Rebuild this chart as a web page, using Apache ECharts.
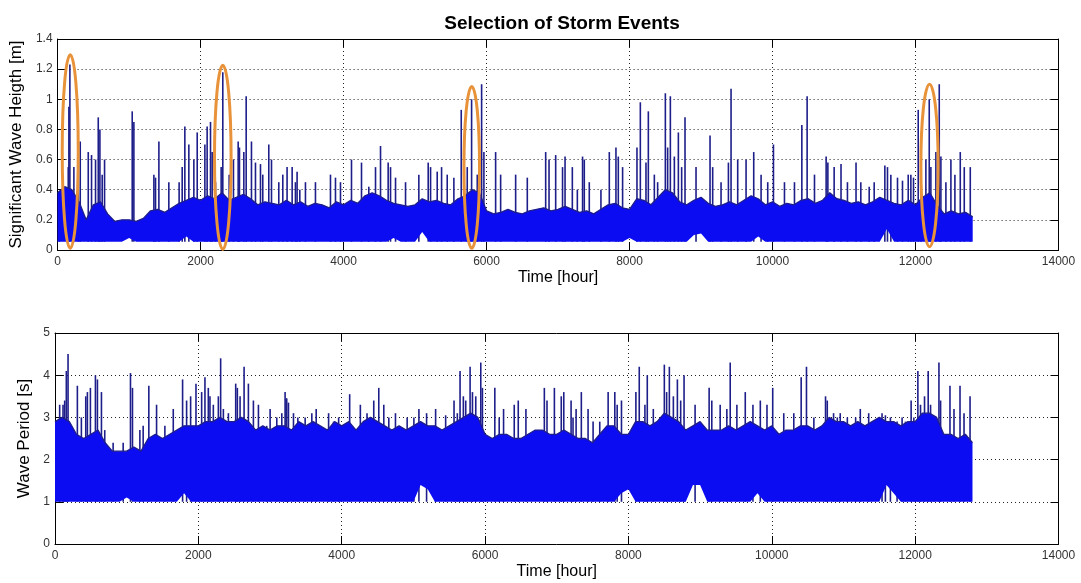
<!DOCTYPE html>
<html>
<head>
<meta charset="utf-8">
<script src="https://cdn.jsdelivr.net/npm/echarts@6/dist/echarts.min.js"></script>
<style>
  html, body { margin: 0; padding: 0; background: #fff; }
  #chart { width: 1081px; height: 583px; }
</style>
</head>
<body>
<div id="chart"></div>
<script>
// envelope of the hourly series, read every 100 hours (0 .. 12800)
var binHours = [];
for (var h = 0; h <= 12800; h += 100) binHours.push(h);

// significant wave height: upper edge of the dense band [m]
var hsHigh = [
  0.38,0.42,0.40,0.32,0.20,0.30,0.32,0.24,0.19,0.20,
  0.20,0.19,0.21,0.26,0.27,0.25,0.28,0.31,0.33,0.35,
  0.33,0.36,0.34,0.38,0.33,0.35,0.37,0.34,0.30,0.32,
  0.31,0.30,0.33,0.30,0.32,0.29,0.31,0.30,0.28,0.32,
  0.30,0.33,0.31,0.36,0.38,0.36,0.33,0.31,0.30,0.29,
  0.30,0.34,0.32,0.33,0.31,0.30,0.34,0.36,0.40,0.38,
  0.26,0.24,0.25,0.27,0.25,0.24,0.26,0.27,0.28,0.26,
  0.27,0.29,0.27,0.25,0.26,0.24,0.27,0.30,0.31,0.28,
  0.27,0.34,0.33,0.30,0.35,0.40,0.38,0.32,0.30,0.33,
  0.35,0.31,0.29,0.30,0.32,0.30,0.33,0.36,0.34,0.30,
  0.32,0.29,0.31,0.30,0.33,0.34,0.31,0.33,0.38,0.34,
  0.33,0.31,0.32,0.30,0.32,0.35,0.33,0.31,0.30,0.33,
  0.30,0.35,0.38,0.30,0.24,0.26,0.24,0.25,0.22
];
var hsFloor = 0.055;
var hsLowNotch = [[1000,0.08],[1800,0.09],[4700,0.08],[5100,0.12],[8000,0.08],[8900,0.10],[9000,0.11],[9800,0.09],[11600,0.14]];

// storm peaks [hour, Hs]
var hsSpikes = [
  [28,0.39],[149,0.55],[158,0.95],[172,1.23],[228,0.55],[289,0.72],[317,0.72],[429,0.65],[475,0.63],[531,0.6],[569,0.88],[592,0.8],[624,0.5],[657,0.6],
  [1044,0.92],[1067,0.85],[1347,0.5],[1370,0.48],[1417,0.72],[1556,0.45],[1700,0.45],[1743,0.55],[1780,0.82],[1836,0.7],[1906,0.6],[1953,0.78],
  [2060,0.7],[2092,0.82],[2139,0.85],[2162,0.65],[2209,0.45],[2288,0.55],[2311,1.18],[2400,0.5],[2460,0.6],[2526,0.72],[2544,0.68],[2605,0.65],[2638,1.02],[2712,0.72],[2768,0.58],[2838,0.57],[2870,0.5],[2954,0.7],[2992,0.6],
  [3094,0.45],[3150,0.5],[3210,0.55],[3281,0.55],[3327,0.45],[3350,0.52],[3388,0.4],[3467,0.45],[3607,0.45],[3817,0.5],[3887,0.48],[3957,0.45],
  [4111,0.6],[4251,0.58],[4353,0.42],[4447,0.55],[4517,0.69],[4624,0.58],[4657,0.55],[4727,0.48],[4867,0.45],[5053,0.5],[5184,0.58],[5217,0.55],[5310,0.52],[5371,0.55],[5450,0.5],[5543,0.48],[5646,0.93],[5730,0.55],[5791,1.0],[5870,0.5],[5931,1.1],[5963,0.65],
  [6127,0.65],[6197,0.5],[6407,0.5],[6570,0.48],[6827,0.65],[6874,0.6],[6967,0.63],[7063,0.55],[7098,0.62],[7200,0.55],[7270,0.4],[7343,0.62],[7367,0.6],[7437,0.45],[7600,0.4],[7717,0.65],[7810,0.68],[7843,0.62],[7903,0.55],
  [8104,0.68],[8151,0.98],[8230,0.58],[8263,0.92],[8347,0.5],[8393,0.45],[8501,1.04],[8533,0.68],[8571,1.02],[8627,0.62],[8683,0.78],[8729,0.55],[8776,0.88],[8930,0.55],
  [9126,0.76],[9163,0.55],[9280,0.45],[9383,0.58],[9420,1.07],[9513,0.6],[9630,0.6],[9737,0.65],[9840,0.5],[9933,0.45],[10013,0.7],
  [10167,0.45],[10307,0.45],[10410,0.83],[10484,1.02],[10587,0.5],[10750,0.62],[10774,0.58],[10862,0.55],[10958,0.57],[11048,0.45],[11168,0.58],[11235,0.45],[11352,0.42],[11422,0.45],[11571,0.56],[11608,0.55],[11655,0.5],[11748,0.48],[11818,0.46],[11898,0.5],[11935,0.5],[11972,0.48],
  [12038,0.93],[12075,0.45],[12145,0.6],[12192,1.0],[12215,0.55],[12285,0.65],[12332,1.1],[12355,0.62],[12425,0.45],[12495,0.6],[12551,0.5],[12626,0.65],[12682,0.55],[12766,0.55]
];

// selected storm events: [centre hour, top, bottom, half width in hours]
var stormEvents = [[177,1.296,0.011,112],[2311,1.225,0.004,116],[5793,1.085,0.011,109],[12196,1.10,0.022,121]];

// wave period: upper edge of the dense band [s]
var tpHigh = [
  2.9,3.0,2.9,2.6,2.5,2.6,2.7,2.4,2.2,2.2,
  2.2,2.3,2.2,2.5,2.6,2.5,2.6,2.7,2.8,2.8,
  2.8,2.9,2.9,3.0,2.9,2.9,3.0,2.9,2.7,2.8,
  2.7,2.8,2.8,2.7,2.9,2.8,2.9,2.8,2.7,2.9,
  2.8,2.9,2.7,2.9,3.0,2.9,2.8,2.7,2.8,2.7,
  2.8,2.9,2.8,2.8,2.7,2.8,2.9,3.0,3.1,3.0,
  2.6,2.5,2.6,2.6,2.5,2.5,2.6,2.7,2.7,2.6,
  2.6,2.7,2.6,2.5,2.5,2.4,2.6,2.8,2.8,2.6,
  2.6,2.9,2.9,2.8,2.9,3.1,3.0,2.9,2.7,2.8,
  2.9,2.7,2.7,2.7,2.8,2.7,2.8,2.9,2.8,2.7,
  2.8,2.6,2.7,2.7,2.8,2.8,2.7,2.8,3.0,2.9,
  2.9,2.8,2.9,2.8,2.9,3.0,2.9,2.9,2.8,2.9,
  2.9,3.1,3.1,3.0,2.6,2.6,2.5,2.6,2.4
];
var tpFloor = 1.0;
var tpLowNotch = [[1000,1.1],[1800,1.2],[5100,1.4],[5200,1.3],[7900,1.2],[8000,1.3],[8900,1.4],[9000,1.4],[9800,1.2],[11600,1.4],[11700,1.2]];

var tpSpikes = [
  [65,3.3],[112,3.3],[135,3.4],[158,4.1],[182,4.5],[312,3.75],[368,3.0],[429,3.5],[452,3.6],[494,3.7],[564,4.0],[592,3.9],[648,3.6],[694,2.7],[811,2.4],[951,2.4],
  [1053,4.05],[1081,3.7],[1184,2.7],[1230,2.8],[1309,3.75],[1417,3.3],[1533,2.8],[1650,3.2],[1780,3.9],[1836,3.4],[1892,3.5],[1967,3.8],
  [2046,3.6],[2092,3.95],[2139,3.7],[2162,3.5],[2209,3.3],[2279,3.5],[2311,4.4],[2349,3.2],[2419,3.1],[2521,3.8],[2544,3.7],[2582,3.5],[2638,4.2],[2698,3.8],[2768,3.4],[2838,3.3],[2954,2.8],
  [3001,3.2],[3094,3.0],[3164,3.1],[3225,3.45],[3257,3.35],[3327,3.1],[3388,3.0],[3210,3.6],[3233,3.45],[3490,3.0],[3583,3.1],[3644,3.2],[3817,3.1],[3887,2.9],[3957,3.0],
  [4111,3.55],[4260,3.3],[4353,3.1],[4447,3.4],[4517,3.7],[4587,3.3],[4657,3.0],[4750,3.1],[4913,3.0],[5007,3.0],[5077,3.2],[5184,3.1],[5310,3.2],[5450,3.05],[5567,3.4],[5613,3.1],[5651,4.1],[5697,3.5],[5730,3.4],[5791,4.2],[5824,3.6],[5870,3.5],[5940,4.3],[5963,3.7],
  [6136,3.7],[6197,3.0],[6258,3.2],[6407,3.3],[6463,3.4],[6570,3.2],[6827,3.7],[6864,3.4],[6967,3.7],[7063,3.5],[7098,3.6],[7200,3.4],[7227,3.0],[7270,3.2],[7343,3.6],[7437,3.2],[7507,2.9],[7600,2.9],[7717,3.6],[7810,3.6],[7843,3.3],[7903,3.4],
  [8104,3.6],[8151,4.2],[8230,3.3],[8263,4.0],[8347,3.2],[8501,4.25],[8533,3.6],[8571,4.2],[8627,3.5],[8683,3.9],[8729,3.4],[8776,4.0],[8930,3.3],
  [9126,3.7],[9163,3.4],[9280,3.3],[9373,3.2],[9420,4.3],[9513,3.3],[9630,3.6],[9737,3.3],[9840,3.4],[9933,3.3],[10013,3.7],
  [10167,3.1],[10307,3.1],[10410,3.95],[10484,4.2],[10587,3.0],[10750,3.5],[10774,3.4],[10862,3.1],[10914,3.0],[10955,3.1],[11054,3.0],[11170,3.0],[11235,3.2],[11352,3.1],[11538,3.1],[11585,3.05],[11655,3.0],[11748,2.9],[11818,3.0],[11865,2.9],[11944,3.4],[11982,3.0],
  [12038,4.1],[12075,3.3],[12131,3.5],[12182,4.1],[12215,3.3],[12262,3.0],[12332,4.3],[12355,3.4],[12486,3.75],[12542,3.2],[12626,3.75],[12682,3.1],[12766,3.5]
];

var FONT = '"Liberation Sans", Arial, Helvetica, sans-serif';
var BAND = '#0c0cf2';
var DARK = '#1e1e8a';

function buildLow(floor, notches) {
  return binHours.map(function (t) {
    for (var i = 0; i < notches.length; i++) {
      if (notches[i][0] === t) return notches[i][1];
    }
    return floor;
  });
}

var hsLow = buildLow(hsFloor, hsLowNotch);
var tpLow = buildLow(tpFloor, tpLowNotch);

function xAxes(gridIndex) {
  return [
    {
      type: 'value', gridIndex: gridIndex, position: 'bottom',
      min: 0, max: 14000, interval: 2000,
      name: 'Time [hour]', nameLocation: 'middle', nameGap: 20,
      nameTextStyle: { color: '#000', fontSize: 16, fontFamily: FONT },
      axisLine: { show: true, onZero: false, lineStyle: { color: '#000', width: 1 } },
      axisTick: { show: true, inside: true, length: 8, lineStyle: { color: '#000' } },
      axisLabel: {
        color: '#333', fontSize: 12, margin: 6, fontFamily: FONT,
        formatter: function (v) { return String(v); }
      },
      splitLine: { show: true, lineStyle: { color: '#222', type: [1, 3], width: 1 } }
    },
    {
      type: 'value', gridIndex: gridIndex, position: 'top',
      min: 0, max: 14000, interval: 2000,
      axisLine: { show: true, onZero: false, lineStyle: { color: '#000', width: 1 } },
      axisTick: { show: true, inside: true, length: 8, lineStyle: { color: '#000' } },
      axisLabel: { show: false },
      splitLine: { show: false }
    }
  ];
}

function yAxes(gridIndex, name, max, interval, gap) {
  return [
    {
      type: 'value', gridIndex: gridIndex, position: 'left',
      min: 0, max: max, interval: interval,
      name: name, nameLocation: 'middle', nameGap: gap, nameRotate: 90,
      nameTextStyle: { color: '#000', fontSize: 17, fontFamily: FONT },
      axisLine: { show: true, onZero: false, lineStyle: { color: '#000', width: 1 } },
      axisTick: { show: true, inside: true, length: 8, lineStyle: { color: '#000' } },
      axisLabel: {
        color: '#333', fontSize: 12, margin: 5, fontFamily: FONT,
        formatter: function (v) { return String(+v.toFixed(1)); }
      },
      splitLine: { show: true, lineStyle: { color: '#222', type: [1, 3], width: 1 } }
    },
    {
      type: 'value', gridIndex: gridIndex, position: 'right',
      min: 0, max: max, interval: interval,
      axisLine: { show: true, onZero: false, lineStyle: { color: '#000', width: 1 } },
      axisTick: { show: true, inside: true, length: 8, lineStyle: { color: '#000' } },
      axisLabel: { show: false },
      splitLine: { show: false }
    }
  ];
}

// dense band: one polygon through the upper readings and back along the lower ones
function bandSeries(xi, yi, low, high) {
  return [
    {
      type: 'custom', xAxisIndex: xi, yAxisIndex: yi, silent: true, z: 3,
      data: binHours.map(function (t, i) { return [t, low[i], high[i]]; }),
      encode: { x: 0, y: [1, 2] },
      renderItem: function (params, api) {
        if (params.dataIndex !== 0) return null;
        var pts = [];
        for (var i = 0; i < binHours.length; i++) pts.push(api.coord([binHours[i], high[i]]));
        for (var j = binHours.length - 1; j >= 0; j--) pts.push(api.coord([binHours[j], low[j]]));
        return {
          type: 'polygon',
          shape: { points: pts },
          style: { fill: BAND, stroke: null }
        };
      }
    },
    {
      type: 'line', xAxisIndex: xi, yAxisIndex: yi, silent: true, z: 4,
      symbol: 'none',
      lineStyle: { color: DARK, width: 1.3 },
      data: binHours.map(function (t, i) { return [t, high[i]]; })
    }
  ];
}

function spikeSeries(xi, yi, spikes, floor) {
  return {
    type: 'custom', xAxisIndex: xi, yAxisIndex: yi, silent: true, z: 2,
    data: spikes,
    renderItem: function (params, api) {
      var p0 = api.coord([api.value(0), floor]);
      var p1 = api.coord([api.value(0), api.value(1)]);
      return {
        type: 'line',
        shape: { x1: p0[0], y1: p0[1], x2: p1[0], y2: p1[1] },
        style: { stroke: DARK, lineWidth: 1.6 }
      };
    }
  };
}

var chart = echarts.init(document.getElementById('chart'));

var option = {
  animation: false,
  backgroundColor: '#fff',
  title: {
    text: 'Selection of Storm Events',
    left: 557, top: 9, textAlign: 'center',
    textStyle: { color: '#000', fontSize: 19, fontWeight: 'bold', fontFamily: FONT }
  },
  grid: [
    { left: 55, top: 39, width: 1003.5, height: 211 },
    { left: 55, top: 333, width: 1003.5, height: 211 }
  ],
  xAxis: xAxes(0).concat(xAxes(1)),
  yAxis: yAxes(0, 'Significant Wave Heigth [m]', 1.4, 0.2, 22)
    .concat(yAxes(1, 'Wave Period [s]', 5, 1, 11)),
  series: [].concat(
    [spikeSeries(0, 0, hsSpikes, hsFloor)],
    bandSeries(0, 0, hsLow, hsHigh),
    [spikeSeries(2, 2, tpSpikes, tpFloor)],
    bandSeries(2, 2, tpLow, tpHigh),
    [{
      type: 'custom', xAxisIndex: 0, yAxisIndex: 0, silent: true, z: 5,
      data: stormEvents,
      renderItem: function (params, api) {
        var a = api.coord([api.value(0) - api.value(3), api.value(1)]);
        var b = api.coord([api.value(0) + api.value(3), api.value(2)]);
        return {
          type: 'ellipse',
          shape: { cx: (a[0] + b[0]) / 2, cy: (a[1] + b[1]) / 2, rx: (b[0] - a[0]) / 2, ry: (b[1] - a[1]) / 2 },
          style: { fill: 'none', stroke: '#e8923a', lineWidth: 3 }
        };
      }
    }]
  )
};

chart.setOption(option);
</script>
</body>
</html>
